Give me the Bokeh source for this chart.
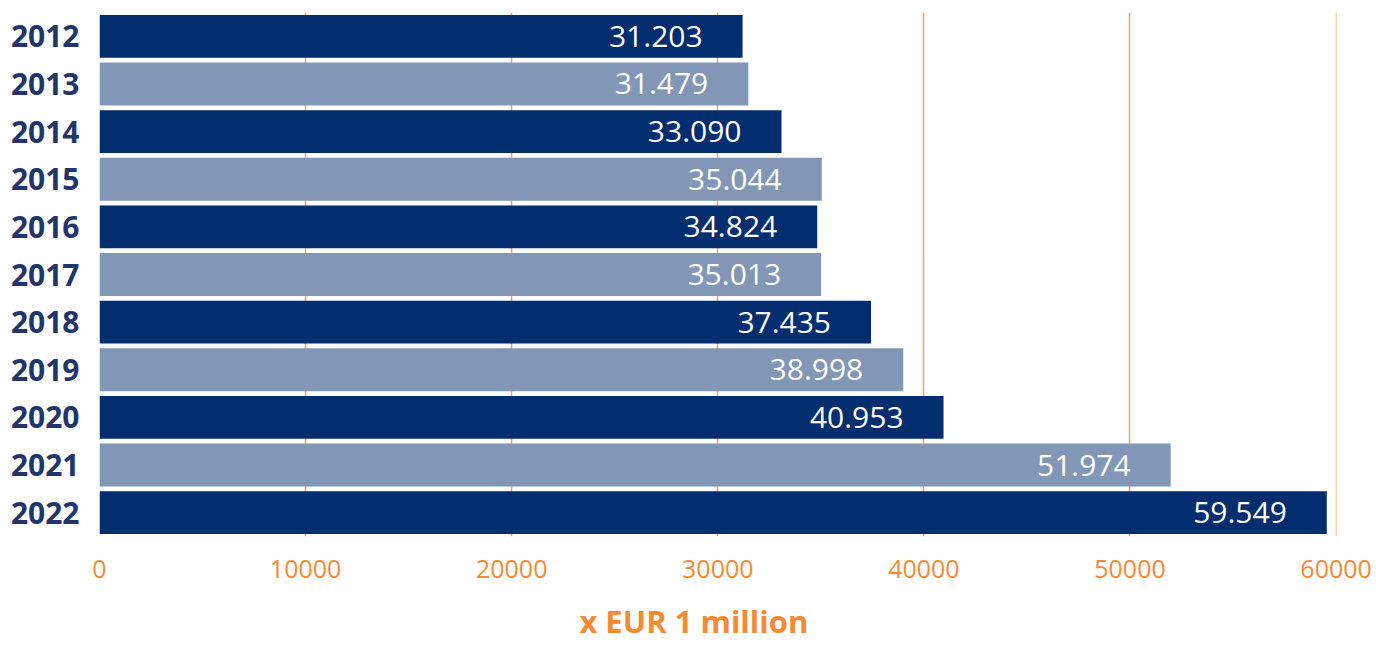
from bokeh.plotting import figure
from bokeh.models import ColumnDataSource, Range1d, FactorRange, FixedTicker, NumeralTickFormatter
from bokeh.embed import file_html
from bokeh.resources import INLINE
from bokeh.core.properties import value

years = ["2012", "2013", "2014", "2015", "2016", "2017", "2018", "2019", "2020", "2021", "2022"]
amounts = [31203, 31479, 33090, 35044, 34824, 35013, 37435, 38998, 40953, 51974, 59549]
x_ticks = [0, 10000, 20000, 30000, 40000, 50000, 60000]
axis_title = "x EUR 1 million"

DARK = "#022D6E"
LIGHT = "#8297B6"
ORANGE = "#F58A34"
GRID = "#F8A460"
YEARCOL = "#22356B"

colors = [DARK if i % 2 == 0 else LIGHT for i in range(len(years))]
labels = [f"{v:,}".replace(",", ".") for v in amounts]
src = ColumnDataSource(dict(year=years, amount=amounts, color=colors, label=labels))

p = figure(width=1376, height=646, output_backend="svg", toolbar_location=None,
           y_range=FactorRange(*reversed(years), range_padding=0),
           x_range=Range1d(0, 60020),
           min_border_left=99, min_border_right=40, min_border_top=12, min_border_bottom=110)
p.outline_line_color = None
p.background_fill_color = "white"
p.border_fill_color = "white"

p.hbar(y="year", left=0, right="amount", height=0.9, color="color", source=src, line_color=None)
p.text(x="amount", y="year", text="label", source=src, x_offset=-40, text_align="right",
       text_baseline="middle", text_color="white", text_font=value("Open Sans"),
       text_font_size="30px")

p.ygrid.grid_line_color = None
p.xgrid.grid_line_color = GRID
p.xgrid.grid_line_width = 1.5
p.xgrid.level = "underlay"

xa = p.xaxis[0]
xa.ticker = FixedTicker(ticks=x_ticks)
xa.formatter = NumeralTickFormatter(format="0")
xa.axis_line_color = None
xa.major_tick_line_color = None
xa.minor_tick_line_color = None
xa.major_label_text_color = ORANGE
xa.major_label_text_font = "Open Sans"
xa.major_label_text_font_size = "25px"
xa.major_label_standoff = 17
xa.axis_label = axis_title + "\u00a0" * 6
xa.axis_label_text_color = ORANGE
xa.axis_label_text_font = "Open Sans"
xa.axis_label_text_font_style = "bold"
xa.axis_label_text_font_size = "31px"
xa.axis_label_standoff = 19

ya = p.yaxis[0]
ya.axis_line_color = None
ya.major_tick_line_color = None
ya.minor_tick_line_color = None
ya.major_label_text_color = YEARCOL
ya.major_label_text_font = "Open Sans"
ya.major_label_text_font_style = "bold"
ya.major_label_text_font_size = "30px"
ya.major_label_standoff = 14

open("out.html", "w").write(file_html(p, INLINE))
